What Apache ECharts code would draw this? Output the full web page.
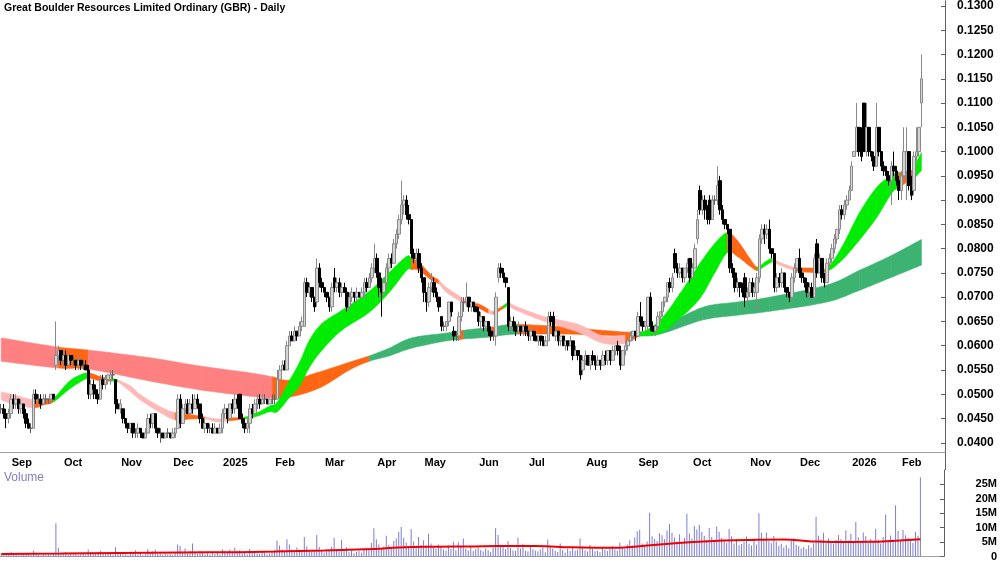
<!DOCTYPE html>
<html>
<head>
<meta charset="utf-8">
<script src="https://cdn.jsdelivr.net/npm/echarts@6/dist/echarts.min.js"></script>
<style>
  html, body { margin: 0; padding: 0; background: #fff; }
  #chart { width: 1000px; height: 562px; }
</style>
</head>
<body>
<div id="chart"></div>
<script>
// prices are in 0.001 units, one candle per trading day: [open, close, low, high]
const candles = [
  [47,47,46,48],[47,46,45,48],[46,45,43,47],[45,46,44,47],[46,49,45,50],[49,48,47,50],[48,49,47,50],[49,47,46,49],[47,48,46,49],[48,46,45,48],
  [46,44,43,47],[44,43,43,45],[43,43,42,44],[43,50,43,51],[50,49,48,51],[49,49,48,50],[49,48,47,50],[48,49,48,50],[49,49,48,50],[49,49,48,49],
  [49,50,48,50],[50,49,49,50],[56,58,55,65],[58,59,56,60],[59,57,56,59],[57,58,56,59],[58,56,55,59],[56,58,56,58],[58,57,56,58],[57,57,56,58],
  [57,56,55,57],[56,57,55,58],[57,56,55,57],[56,56,55,57],[56,55,55,57],[55,50,49,56],[50,52,49,53],[52,51,49,53],[51,50,49,52],[50,49,48,51],
  [49,53,49,54],[53,52,51,54],[52,53,51,54],[53,54,52,54],[53,54,52,55],[54,54,53,55],[53,48,46,53],[48,47,47,49],[47,48,46,49],[47,45,44,47],
  [45,44,43,45],[44,43,42,44],[43,44,42,44],[44,42,41,44],[42,42,41,43],[42,43,41,44],[43,42,41,43],[42,41,41,42],[41,42,41,43],[42,45,42,46],
  [45,44,43,46],[44,46,43,46],[46,43,42,46],[43,42,41,43],[42,42,40,43],[42,41,41,42],[41,42,41,42],[42,42,41,43],[42,41,41,42],[41,42,41,43],
  [42,43,41,43],[43,49,43,50],[49,44,43,50],[44,47,44,48],[47,48,46,49],[48,46,46,49],[46,48,46,49],[48,47,46,50],[47,49,47,50],[49,48,47,50],
  [48,45,44,48],[45,43,43,46],[43,44,42,45],[44,43,42,44],[43,43,42,44],[43,42,42,44],[42,43,42,44],[43,42,42,43],[42,43,42,44],[43,46,42,47],
  [46,47,45,48],[47,45,44,47],[45,48,45,48],[48,47,46,49],[47,49,46,50],[49,48,47,50],[50,45,45,50],[45,44,43,46],[44,43,42,45],[43,44,42,45],
  [44,47,42,48],[47,46,45,48],[46,48,46,49],[48,49,47,50],[49,48,47,50],[48,49,48,50],[49,49,48,50],[49,48,48,49],[48,49,48,49],[49,49,48,50],
  [49,49,48,50],[49,53,49,55],[53,55,53,56],[55,56,55,57],[56,55,55,57],[55,60,55,61],[60,62,60,63],[62,61,61,63],[61,63,61,64],[63,62,61,63],
  [62,64,62,65],[64,65,63,66],[64,73,64,74],[73,71,70,74],[71,72,70,73],[72,70,69,72],[70,68,67,70],[69,76,68,78],[76,73,72,77],[73,72,71,74],
  [72,71,70,72],[71,70,69,71],[70,68,67,70],[68,72,67,73],[74,72,71,76],[72,73,71,74],[73,71,70,74],[71,72,70,73],[72,71,71,73],[71,68,67,72],
  [68,70,67,71],[70,71,69,72],[71,70,69,71],[70,71,69,72],[71,70,70,71],[70,71,70,72],[71,73,70,74],[73,72,71,74],[72,74,72,75],[74,76,73,77],
  [76,78,75,81],[78,75,74,79],[75,72,70,76],[72,71,66,74],[71,73,70,74],[73,76,72,77],[76,78,75,79],[78,77,76,79],[77,81,77,82],[81,83,80,84],
  [83,86,82,87],[86,89,85,94],[89,90,87,91],[90,87,86,91],[87,86,85,89],[86,79,78,86],[79,78,77,80],[78,79,77,80],[79,76,75,80],[76,74,73,77],
  [74,71,69,74],[71,69,67,71],[69,72,68,73],[72,73,71,75],[73,71,70,74],[71,70,69,72],[70,68,67,70],[66,64,63,66],[64,64,63,65],[64,65,63,65],
  [65,69,64,69],[69,67,66,69],[63,62,61,64],[62,62,61,63],[62,66,61,67],[66,69,65,70],[69,69,67,70],[69,70,68,73],[70,68,67,70],[68,69,67,69],
  [69,68,67,69],[68,67,67,68],[67,65,64,68],[65,66,63,67],[66,64,63,66],[64,65,63,65],[65,63,62,65],[63,62,61,64],[62,62,61,63],[62,70,60,71],
  [74,76,73,77],[76,75,74,77],[75,74,73,76],[74,73,72,74],[72,64,63,72],[64,65,63,66],[65,64,63,66],[64,63,62,65],[63,64,63,65],[64,63,62,64],
  [63,64,62,64],[64,63,62,65],[63,62,61,63],[62,63,61,64],[63,62,61,63],[62,61,61,63],[61,62,60,62],[62,61,60,62],[61,60,60,62],[60,61,60,62],
  [61,66,61,67],[66,65,64,67],[66,62,62,67],[62,63,61,63],[63,61,60,63],[61,62,60,62],[62,60,60,62],[60,61,59,61],[61,60,59,61],[60,61,60,62],
  [61,58,57,61],[58,59,58,60],[59,58,57,59],[58,54,53,58],[55,57,54,58],[57,58,56,59],[58,56,56,58],[56,58,55,58],[58,57,56,59],[57,56,55,58],
  [56,57,56,58],[57,56,55,57],[56,58,56,59],[58,57,56,59],[57,59,56,59],[59,57,56,59],[57,59,57,60],[59,60,58,60],[60,59,58,61],[59,56,55,60],
  [56,59,56,59],[59,60,58,61],[60,61,59,61],[61,62,61,63],[62,63,61,63],[63,62,61,63],[62,66,62,67],[66,65,64,69],[65,64,63,66],[64,65,63,65],
  [64,70,63,70],[70,64,63,71],[64,63,63,65],[63,64,62,64],[64,66,63,67],[66,67,65,67],[67,69,66,69],[69,70,68,70],[70,73,69,73],[73,72,71,74],
  [72,74,71,75],[79,76,75,80],[76,75,74,77],[75,76,74,77],[76,74,73,76],[74,76,73,76],[76,77,75,78],[78,74,73,78],[74,76,74,77],[76,80,76,81],
  [82,86,81,88],[92,88,87,93],[88,90,87,91],[90,88,86,91],[88,86,85,89],[90,86,85,91],[86,90,86,91],[90,90,89,91],[90,93,89,97],[94,88,87,95],
  [88,86,85,89],[86,85,84,86],[85,84,83,85],[84,76,75,84],[76,75,74,77],[75,72,71,76],[72,73,71,74],[73,72,70,73],[72,71,70,73],[74,70,68,75],
  [70,71,69,72],[71,73,70,74],[73,71,70,74],[71,72,70,73],[71,74,67,75],[74,82,73,83],[82,84,81,85],[84,83,81,85],[83,84,82,85],[84,80,79,86],
  [80,79,78,80],[79,72,71,79],[72,74,71,75],[74,73,72,75],[73,75,72,76],[75,72,71,75],[72,71,70,72],[71,70,69,71],[70,74,70,75],[74,76,73,77],
  [76,78,75,78],[78,75,74,80],[75,74,73,76],[74,73,72,74],[73,71,70,74],[71,72,70,73],[72,70,70,73],[70,78,70,79],[81,75,74,82],[75,78,75,79],
  [78,74,73,78],[74,73,72,75],[73,77,73,78],[77,78,76,79],[78,80,77,81],[80,82,79,83],[82,84,81,84],[84,88,83,89],[88,87,86,89],[87,89,86,90],
  [89,90,88,91],[90,92,90,93],[92,97,92,98],[99,100,99,100],[100,105,100,110],[105,100,99,105],[100,99,98,105],[110,100,100,110],[100,105,99,110],[105,100,99,105],
  [100,99,98,100],[99,97,96,100],[97,105,97,110],[105,100,99,105],[100,97,96,100],[97,96,95,98],[96,95,94,97],[95,94,93,96],[94,97,89,98],[97,96,95,100],
  [96,94,93,97],[94,92,90,95],[92,95,90,96],[95,100,94,105],[96,100,90,105],[100,93,92,100],[93,91,90,95],[92,99,91,100],[99,100,98,105],[100,105,99,105],
  [110,115,105,120]
];

// daily volume, millions of shares
const volumes = [
  0.8,1.2,0.6,0.5,1.5,0.7,0.9,0.4,1.1,0.6,1.3,0.8,0.5,2.0,0.9,0.6,0.4,0.7,0.5,0.8,0.6,0.9,11.5,3.0,
  1.2,0.8,1.5,0.6,0.9,0.7,1.0,0.5,0.8,1.2,0.6,2.4,
  1.5,0.9,1.1,1.6,2.0,1.2,0.8,0.9,1.5,0.7,3.2,1.4,
  1.0,1.6,0.8,0.6,1.2,0.9,2.2,0.7,1.0,0.5,0.8,2.6,
  1.3,1.8,2.4,0.9,1.1,0.7,1.5,0.8,1.0,0.6,1.4,4.2,
  3.6,1.5,2.8,1.0,1.9,4.5,1.2,0.9,2.0,1.4,0.8,1.1,
  0.7,1.3,0.9,1.6,0.8,2.5,1.8,1.2,2.4,1.5,3.0,1.9,
  2.2,1.0,1.4,0.8,2.6,1.3,1.7,1.1,0.9,1.5,1.2,0.8,
  1.0,1.6,2.2,5.5,3.8,2.4,1.6,6.0,4.2,2.5,1.8,3.1,
  2.4,1.9,6.8,3.5,2.2,1.6,1.8,7.5,3.3,2.0,1.4,1.7,
  2.3,3.4,6.5,2.6,1.8,5.8,2.1,3.2,1.5,2.0,1.1,1.6,
  1.9,1.3,2.4,3.0,2.2,4.8,9.8,6.0,4.2,2.6,3.5,7.2,
  4.0,3.1,5.5,6.2,8.5,10.2,6.5,4.8,3.6,9.5,5.2,3.3,
  6.8,4.1,5.6,3.8,7.9,4.5,3.0,2.6,4.2,3.5,2.4,2.0,
  3.8,2.7,5.1,2.2,4.9,3.3,6.2,2.8,2.1,3.4,1.9,2.6,
  3.1,2.3,1.8,2.9,2.2,1.6,3.0,9.8,7.5,4.1,3.3,2.5,
  5.4,3.0,2.2,1.9,6.5,2.8,4.4,2.0,1.7,3.6,2.5,2.1,
  1.8,2.4,3.2,1.5,5.9,3.6,2.8,2.0,1.6,4.5,2.3,1.4,
  2.7,1.9,3.3,2.1,2.4,6.2,3.0,2.2,1.7,4.0,2.6,1.8,
  2.0,1.5,3.4,2.3,1.9,2.8,3.6,2.5,2.0,4.8,3.1,2.7,
  4.2,5.6,3.8,6.6,8.8,9.3,4.5,3.9,5.2,15.2,7.0,6.1,
  5.4,8.1,7.4,6.0,9.0,11.3,8.2,6.6,5.1,7.7,4.9,6.4,
  14.8,8.0,6.2,10.6,9.4,11.0,8.5,7.2,5.8,9.9,6.8,5.2,
  10.4,8.6,6.4,5.5,4.8,9.5,7.0,4.5,6.1,3.9,4.3,5.0,
  6.9,4.4,3.8,5.6,4.2,15.0,8.2,6.0,8.3,5.3,4.6,7.1,
  5.2,3.7,4.4,3.1,4.0,2.9,5.5,6.3,4.1,3.6,2.8,3.3,
  2.6,3.9,3.0,4.6,13.8,7.2,5.9,8.2,4.8,6.3,5.0,4.4,
  5.7,7.5,6.0,5.3,9.1,5.6,7.8,4.9,12.0,6.7,5.5,8.3,
  7.0,4.8,6.1,5.2,9.6,5.9,4.5,6.8,14.6,5.1,7.3,6.0,
  17.8,8.9,5.6,9.2,7.4,6.5,5.8,4.7,8.6,7.2,27.5
];

// volume moving average, read at some trading days
const volMaDays = [0,24,48,72,96,110,130,150,160,175,190,200,215,230,245,255,270,285,300,315,325,335,350,360,370];
const volMa = [0.9,1.0,1.2,1.4,1.5,1.7,2.1,2.6,3.1,3.4,3.5,3.6,3.6,3.2,3.0,3.4,4.5,5.3,5.7,5.9,5.3,5.0,5.1,5.5,6.0];

// short-term ribbon (upper / lower edge), colour of the stretch after each point
const shortDays = [0,5,13,17,21,27,31,35,40,44,47,52,56,64,70,76,82,87,91,98,103,108,111,116,120,124,129,137,148,156,163,165,168,173,176,179,185,188,192,196,198,202,204,208,219,232,242,251,257,265,273,281,287,292,296,301,304,307,310,313,319,326,332,338,345,352,358,361,364,366,367,370];
const shortTop = [50.5,49.9,48.8,49.0,49.2,52.5,53.8,54.4,53.6,53.3,52.9,51.7,49.9,47.4,46.2,45.8,45.3,44.9,45.1,45.3,46.2,47.6,48.4,52.9,56.6,61.2,64.6,67.3,71.2,75.1,78.4,78.0,77.2,74.5,73.5,72.0,70.0,69.0,68.6,67.5,67.1,68.3,68.8,67.9,65.9,64.4,62.0,62.2,62.6,65.3,70.8,77.0,81.1,83.3,81.7,78.0,76.2,77.2,78.0,77.2,76.2,76.0,76.0,80.3,87.3,92.6,95.1,95.7,95.7,96.1,96.9,99.8];
const shortBot = [48.8,48.0,47.2,47.8,48.4,50.9,52.3,53.3,52.7,52.7,52.5,50.5,48.8,46.2,44.7,44.9,44.9,44.3,44.5,44.9,45.5,46.4,46.4,49.4,51.7,55.6,59.1,63.2,66.9,71.0,75.5,75.7,75.5,73.5,72.7,71.0,69.0,68.3,67.7,66.7,66.5,67.7,68.1,67.1,64.9,62.8,60.5,60.5,62.0,62.6,65.7,69.8,75.1,79.2,78.4,76.4,75.5,76.4,77.2,76.6,75.5,75.1,75.3,77.6,81.7,86.4,91.4,92.6,93.6,93.8,94.4,96.1];
const shortColours = 'PPOOGGGOOGPPPPOOPPOGGGGGGGGGGGGOOOPPPOOPOGPPPPPOGGGGGOOOGGPPOOGGGGGOGOG'.split('');

// long-term ribbon
const longDays = [0,23,35,60,80,100,109,116,128,140,148,156,165,179,184,186,197,199,208,228,241,255,265,282,296,309,332,345,358,370];
const longTop = [61.6,59.7,59.1,57.5,55.8,54.4,53.6,52.9,54.6,56.6,57.9,59.5,61.6,62.6,63.0,63.2,63.8,64.0,64.4,63.8,63.2,62.8,63.8,67.9,69.0,70.0,72.5,75.5,78.6,81.9];
const longBot = [56.8,55.4,55.2,52.7,50.9,49.6,49.2,49.4,51.3,55.0,56.8,57.9,59.5,61.0,61.2,61.4,61.8,62.0,62.4,62.4,62.2,62.0,62.4,65.3,66.3,67.1,69.0,71.4,74.1,76.6];
const longColours = 'RORRRROOOODDDDODODOOODDDDDDDD'.split('');

const priceTicks = [40,45,50,55,60,65,70,75,80,85,90,95,100,105,110,115,120,125,130];
const volTicks = [0,5,10,15,20,25];
const monthNames = ['Jan','Feb','Mar','Apr','May','Jun','Jul','Aug','Sep','Oct','Nov','Dec'];
const holidays = ['2024-12-25','2024-12-26','2025-01-01','2025-01-27','2025-04-18','2025-04-21','2025-04-25','2025-06-09','2025-12-25','2025-12-26','2026-01-01','2026-01-26'];

const palette = { G: '#00ec00', O: '#ff6614', P: '#ffb8b8', R: '#ff8080', D: '#3cb371' };

// trading days from 28 Aug 2024, with a few empty days on the right
const dates = [];
const day = new Date(Date.UTC(2024, 7, 28));
while (dates.length < 380) {
  const s = day.toISOString().slice(0, 10);
  const wd = day.getUTCDay();
  if (wd !== 0 && wd !== 6 && holidays.indexOf(s) < 0) dates.push(s);
  day.setUTCDate(day.getUTCDate() + 1);
}

const isMonthStart = (i) => i > 0 && dates[i].slice(0, 7) !== dates[i - 1].slice(0, 7);
const monthLabel = (v) => {
  const m = +v.slice(5, 7);
  return m === 1 ? v.slice(0, 4) : monthNames[m - 1];
};

// one filled piece per stretch, edges drawn as smooth curves through the points
const ribbon = (days, top, bot, colours, z) => {
  const last = days.length - 1;
  const segs = [];
  for (let k = 0; k < last; k++) {
    segs.push([days[k], top[k], bot[k], days[k + 1], top[k + 1], bot[k + 1]]);
  }
  return {
    type: 'custom',
    xAxisIndex: 0,
    yAxisIndex: 0,
    z: z,
    silent: true,
    data: segs,
    encode: { x: [0, 3], y: [1, 2, 4, 5] },
    renderItem: (params, api) => {
      const k = params.dataIndex;
      const at = (j, arr) => {
        j = Math.max(0, Math.min(last, j));
        return api.coord([days[j], arr[j]]);
      };
      const curve = (arr) => {
        const p0 = at(k - 1, arr), p1 = at(k, arr), p2 = at(k + 1, arr), p3 = at(k + 2, arr);
        const c1 = [p1[0] + (p2[0] - p0[0]) / 6, p1[1] + (p2[1] - p0[1]) / 6];
        const c2 = [p2[0] - (p3[0] - p1[0]) / 6, p2[1] - (p3[1] - p1[1]) / 6];
        const pts = [];
        for (let s = 0; s <= 10; s++) {
          const t = s / 10, u = 1 - t;
          const a = u * u * u, b = 3 * u * u * t, c = 3 * u * t * t, d = t * t * t;
          pts.push([a * p1[0] + b * c1[0] + c * c2[0] + d * p2[0], a * p1[1] + b * c1[1] + c * c2[1] + d * p2[1]]);
        }
        return pts;
      };
      const col = palette[colours[k]];
      return {
        type: 'polygon',
        shape: { points: curve(top).concat(curve(bot).reverse()) },
        style: { fill: col, stroke: col, lineWidth: 0.6 }
      };
    }
  };
};

const font = 'Liberation Sans';
const myChart = echarts.init(document.getElementById('chart'));
const option = {
  animation: false,
  backgroundColor: '#ffffff',
  title: [
    {
      text: 'Great Boulder Resources Limited Ordinary (GBR) - Daily',
      left: 4, top: 3, padding: 0,
      textStyle: { fontFamily: font, fontSize: 10.5, fontWeight: 'bold', color: '#000' }
    },
    {
      text: 'Volume',
      left: 4, top: 472, padding: 0,
      textStyle: { fontFamily: font, fontSize: 12, fontWeight: 'normal', color: '#7f7fc4' }
    }
  ],
  grid: [
    { left: 0, top: 0, width: 945, height: 452 },
    { left: 0, top: 470, width: 945, height: 87 }
  ],
  xAxis: [
    {
      type: 'category', gridIndex: 0, data: dates, boundaryGap: true,
      axisLine: { lineStyle: { color: '#a0a0a0' } },
      axisTick: { interval: isMonthStart, length: 5, lineStyle: { color: '#707070' } },
      axisLabel: {
        interval: isMonthStart, formatter: monthLabel, align: 'left', padding: [0, 0, 0, 3], margin: 5,
        color: '#000', fontFamily: font, fontSize: 11, fontWeight: 'bold'
      },
      splitLine: { show: false }
    },
    {
      type: 'category', gridIndex: 1, data: dates, boundaryGap: true, position: 'top',
      axisLine: { lineStyle: { color: '#a0a0a0' } },
      axisTick: { show: false },
      axisLabel: { show: false },
      splitLine: { show: false }
    }
  ],
  yAxis: [
    {
      type: 'value', gridIndex: 0, position: 'right', min: 38.1, max: 131.1,
      axisLine: { show: true, lineStyle: { color: '#606060' } },
      axisTick: { show: true, inside: true, length: 4, customValues: priceTicks, lineStyle: { color: '#606060' } },
      axisLabel: {
        customValues: priceTicks, formatter: (v) => (v / 1000).toFixed(4), margin: 12,
        color: '#000', fontFamily: font, fontSize: 12, fontWeight: 'bold'
      },
      splitLine: { show: false }
    },
    {
      type: 'value', gridIndex: 1, position: 'right', min: 0, max: 30,
      axisLine: { show: true, lineStyle: { color: '#606060' } },
      axisTick: { show: true, inside: true, length: 4, customValues: volTicks, lineStyle: { color: '#606060' } },
      axisLabel: {
        customValues: volTicks, formatter: (v) => (v ? v + 'M' : '0'), margin: 53, align: 'right',
        color: '#000', fontFamily: font, fontSize: 11, fontWeight: 'bold'
      },
      splitLine: { show: false }
    }
  ],
  graphic: [
    { type: 'line', shape: { x1: 945.5, y1: 452, x2: 945.5, y2: 470 }, style: { stroke: '#606060', lineWidth: 1 } }
  ],
  series: [
    ribbon(longDays, longTop, longBot, longColours, 1),
    ribbon(shortDays, shortTop, shortBot, shortColours, 2),
    {
      type: 'candlestick',
      xAxisIndex: 0, yAxisIndex: 0, z: 3,
      data: candles,
      barWidth: 3,
      itemStyle: {
        color: '#d4d4d4', color0: '#000000',
        borderColor: '#8a8a8a', borderColor0: '#000000', borderColorDoji: '#606060',
        borderWidth: 1
      }
    },
    {
      type: 'bar',
      xAxisIndex: 1, yAxisIndex: 1,
      data: volumes,
      barWidth: 1,
      itemStyle: { color: '#7d7dd4' }
    },
    {
      type: 'line',
      xAxisIndex: 1, yAxisIndex: 1,
      data: volMaDays.map((d, k) => [d, volMa[k]]),
      smooth: true,
      showSymbol: false,
      lineStyle: { color: '#f00000', width: 2 },
      z: 4
    }
  ]
};
myChart.setOption(option);
</script>
</body>
</html>
